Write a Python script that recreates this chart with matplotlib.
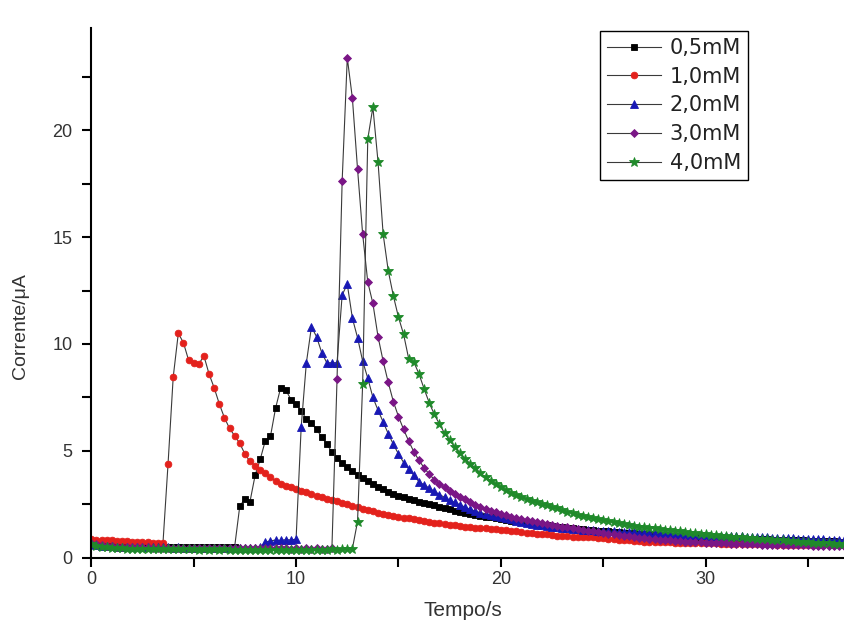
import matplotlib.pyplot as plt
from matplotlib.ticker import MultipleLocator
import numpy as np

plt.rcParams['font.family'] = ['Liberation Sans', 'DejaVu Sans']

# sampling step of the chronoamperograms (s)
dt = 0.25

labels = ('0,5mM', '1,0mM', '2,0mM', '3,0mM', '4,0mM')

# current (uA), one row = 2 s
c05 = [0.68, 0.63, 0.59, 0.57, 0.55, 0.54, 0.54, 0.52,
       0.53, 0.51, 0.52, 0.50, 0.51, 0.49, 0.50, 0.49,
       0.50, 0.48, 0.49, 0.48, 0.49, 0.47, 0.48, 0.47,
       0.48, 0.47, 0.48, 0.47, 0.50, 2.40, 2.75, 2.62,
       3.85, 4.60, 5.48, 5.68, 7.00, 7.96, 7.84, 7.40,
       7.20, 6.85, 6.50, 6.28, 6.00, 5.65, 5.30, 4.95,
       4.65, 4.43, 4.24, 4.05, 3.86, 3.72, 3.58, 3.43,
       3.30, 3.19, 3.09, 2.99, 2.88, 2.82, 2.75, 2.68,
       2.62, 2.56, 2.50, 2.44, 2.38, 2.32, 2.26, 2.20,
       2.15, 2.10, 2.05, 2.00, 1.95, 1.92, 1.88, 1.84,
       1.80, 1.76, 1.72, 1.69, 1.65, 1.62, 1.58, 1.55,
       1.52, 1.50, 1.47, 1.45, 1.42, 1.40, 1.37, 1.35,
       1.32, 1.30, 1.28, 1.26, 1.24, 1.22, 1.20, 1.18,
       1.16, 1.15, 1.13, 1.12, 1.10, 1.09, 1.07, 1.06,
       1.04, 1.03, 1.02, 1.00, 0.99, 0.98, 0.97, 0.96,
       0.95, 0.94, 0.93, 0.92, 0.91, 0.90, 0.90, 0.89,
       0.88, 0.87, 0.87, 0.86, 0.85, 0.84, 0.84, 0.83,
       0.82, 0.81, 0.81, 0.80, 0.79, 0.78, 0.78, 0.77,
       0.76, 0.76, 0.75, 0.75, 0.74, 0.74, 0.73, 0.73]

c10 = [0.86, 0.84, 0.83, 0.81, 0.80, 0.79, 0.78, 0.77,
       0.75, 0.74, 0.72, 0.71, 0.69, 0.68, 0.66, 4.40,
       8.44, 10.50, 10.06, 9.25, 9.12, 9.06, 9.44, 8.60,
       7.95, 7.20, 6.55, 6.05, 5.70, 5.35, 4.85, 4.50,
       4.30, 4.12, 3.95, 3.75, 3.58, 3.45, 3.36, 3.28,
       3.20, 3.12, 3.05, 2.98, 2.90, 2.83, 2.76, 2.70,
       2.64, 2.56, 2.49, 2.42, 2.35, 2.28, 2.22, 2.16,
       2.10, 2.05, 2.00, 1.95, 1.91, 1.87, 1.83, 1.79,
       1.75, 1.71, 1.68, 1.64, 1.60, 1.57, 1.53, 1.50,
       1.47, 1.45, 1.42, 1.40, 1.38, 1.36, 1.34, 1.32,
       1.30, 1.27, 1.25, 1.22, 1.20, 1.17, 1.15, 1.12,
       1.10, 1.08, 1.05, 1.03, 1.01, 0.99, 0.98, 0.97,
       0.96, 0.95, 0.94, 0.93, 0.92, 0.89, 0.86, 0.84,
       0.82, 0.80, 0.78, 0.76, 0.75, 0.74, 0.73, 0.72,
       0.71, 0.71, 0.70, 0.69, 0.69, 0.68, 0.68, 0.67,
       0.67, 0.66, 0.66, 0.65, 0.65, 0.65, 0.64, 0.64,
       0.63, 0.63, 0.63, 0.62, 0.62, 0.62, 0.61, 0.61,
       0.61, 0.60, 0.60, 0.60, 0.59, 0.59, 0.59, 0.58,
       0.58, 0.58, 0.58, 0.57, 0.57, 0.57, 0.57, 0.56]

c20 = [0.62, 0.58, 0.55, 0.53, 0.52, 0.51, 0.50, 0.50,
       0.49, 0.49, 0.48, 0.48, 0.47, 0.48, 0.47, 0.47,
       0.46, 0.47, 0.46, 0.46, 0.45, 0.46, 0.45, 0.45,
       0.46, 0.45, 0.45, 0.44, 0.45, 0.44, 0.45, 0.44,
       0.46, 0.50, 0.72, 0.78, 0.82, 0.80, 0.84, 0.82,
       0.86, 6.13, 9.10, 10.80, 10.34, 9.60, 9.12, 9.12,
       9.12, 12.30, 12.80, 11.20, 10.30, 9.20, 8.40, 7.50,
       6.90, 6.35, 5.80, 5.30, 4.85, 4.45, 4.15, 3.85,
       3.55, 3.40, 3.25, 3.10, 2.95, 2.82, 2.69, 2.58,
       2.47, 2.36, 2.25, 2.18, 2.10, 2.05, 2.00, 1.95,
       1.90, 1.84, 1.79, 1.73, 1.68, 1.63, 1.58, 1.54,
       1.50, 1.47, 1.44, 1.41, 1.38, 1.36, 1.34, 1.32,
       1.30, 1.29, 1.28, 1.26, 1.25, 1.24, 1.23, 1.21,
       1.20, 1.19, 1.18, 1.16, 1.15, 1.14, 1.13, 1.11,
       1.10, 1.09, 1.09, 1.08, 1.07, 1.06, 1.06, 1.05,
       1.04, 1.03, 1.03, 1.02, 1.01, 1.00, 1.00, 0.99,
       0.97, 0.97, 0.96, 0.95, 0.94, 0.93, 0.93, 0.92,
       0.90, 0.90, 0.89, 0.88, 0.88, 0.87, 0.86, 0.85,
       0.84, 0.84, 0.83, 0.83, 0.82, 0.82, 0.81, 0.81]

c30 = [0.70, 0.64, 0.58, 0.55, 0.53, 0.51, 0.50, 0.49,
       0.48, 0.48, 0.47, 0.47, 0.46, 0.46, 0.46, 0.45,
       0.45, 0.46, 0.45, 0.44, 0.45, 0.44, 0.45, 0.44,
       0.44, 0.45, 0.44, 0.44, 0.43, 0.44, 0.43, 0.44,
       0.43, 0.44, 0.43, 0.43, 0.44, 0.43, 0.43, 0.42,
       0.43, 0.42, 0.43, 0.42, 0.43, 0.42, 0.42, 0.45,
       8.36, 17.65, 23.40, 21.50, 18.20, 15.15, 12.90, 11.90,
       10.35, 9.20, 8.20, 7.30, 6.60, 6.00, 5.45, 4.95,
       4.55, 4.20, 3.90, 3.65, 3.45, 3.28, 3.13, 2.98,
       2.85, 2.72, 2.60, 2.48, 2.37, 2.28, 2.20, 2.12,
       2.05, 1.98, 1.92, 1.86, 1.80, 1.75, 1.70, 1.65,
       1.60, 1.56, 1.52, 1.48, 1.45, 1.41, 1.37, 1.34,
       1.30, 1.26, 1.22, 1.19, 1.15, 1.12, 1.08, 1.05,
       1.02, 0.99, 0.96, 0.93, 0.90, 0.88, 0.86, 0.84,
       0.82, 0.80, 0.78, 0.77, 0.75, 0.74, 0.72, 0.71,
       0.70, 0.69, 0.68, 0.67, 0.66, 0.65, 0.64, 0.64,
       0.63, 0.62, 0.62, 0.61, 0.60, 0.60, 0.59, 0.59,
       0.58, 0.58, 0.57, 0.57, 0.57, 0.56, 0.56, 0.56,
       0.55, 0.55, 0.55, 0.55, 0.54, 0.54, 0.54, 0.54]

c40 = [0.62, 0.55, 0.50, 0.47, 0.45, 0.44, 0.43, 0.42,
       0.42, 0.41, 0.40, 0.41, 0.40, 0.39, 0.40, 0.39,
       0.40, 0.38, 0.39, 0.38, 0.39, 0.37, 0.38, 0.37,
       0.38, 0.37, 0.38, 0.36, 0.37, 0.36, 0.37, 0.36,
       0.37, 0.36, 0.37, 0.36, 0.37, 0.36, 0.37, 0.36,
       0.37, 0.36, 0.37, 0.36, 0.37, 0.36, 0.37, 0.38,
       0.37, 0.39, 0.40, 0.42, 1.68, 8.13, 19.60, 21.09,
       18.54, 15.15, 13.43, 12.25, 11.25, 10.45, 9.30, 9.15,
       8.60, 7.90, 7.25, 6.70, 6.25, 5.82, 5.50, 5.18,
       4.90, 4.62, 4.40, 4.20, 3.95, 3.77, 3.60, 3.44,
       3.30, 3.16, 3.04, 2.93, 2.83, 2.74, 2.66, 2.58,
       2.50, 2.44, 2.37, 2.30, 2.22, 2.15, 2.08, 2.01,
       1.95, 1.90, 1.85, 1.80, 1.75, 1.70, 1.65, 1.60,
       1.55, 1.52, 1.48, 1.45, 1.42, 1.39, 1.36, 1.33,
       1.30, 1.27, 1.25, 1.22, 1.20, 1.17, 1.15, 1.12,
       1.10, 1.07, 1.05, 1.02, 1.00, 0.98, 0.96, 0.94,
       0.92, 0.90, 0.88, 0.87, 0.85, 0.83, 0.81, 0.80,
       0.78, 0.76, 0.75, 0.73, 0.72, 0.70, 0.69, 0.67,
       0.66, 0.65, 0.63, 0.62, 0.60, 0.59, 0.58, 0.57]

series = [c05, c10, c20, c30, c40]
markers = ['s', 'o', '^', 'D', '*']
sizes = [4.0, 4.8, 5.6, 4.3, 7.2]
colors = ['#000000', '#e3211c', '#1818b4', '#7a1686', '#1f8a2a']

fig = plt.figure(figsize=(8.45, 6.35), dpi=100)
ax = fig.add_axes([0.108, 0.122, 0.892, 0.834])

for y, lab, m, ms, c in zip(series, labels, markers, sizes, colors):
    t = dt * np.arange(len(y))
    ax.plot(t, y, color='#3a3a3a', lw=0.8, marker=m, ms=ms,
            mfc=c, mec=c, mew=0.6, label=lab)

ax.set_xlim(0, 36.8)
ax.set_ylim(0, 24.8)

for s in ('top', 'right'):
    ax.spines[s].set_visible(False)
for s in ('left', 'bottom'):
    ax.spines[s].set_linewidth(1.5)

ax.xaxis.set_major_locator(MultipleLocator(10))
ax.xaxis.set_minor_locator(MultipleLocator(5))
ax.yaxis.set_major_locator(MultipleLocator(5))
ax.yaxis.set_minor_locator(MultipleLocator(2.5))
ax.tick_params(which='both', direction='out', length=6.5, width=1.5,
               colors='black', labelcolor='#333333', labelsize=13)
ax.tick_params(axis='x', pad=3)
ax.tick_params(axis='y', pad=7)

ax.set_xlabel('Tempo/s', fontsize=15, color='#333333')
ax.set_ylabel('Corrente/μA', fontsize=14, color='#333333')
ax.xaxis.set_label_coords(0.493, -0.082)
ax.yaxis.set_label_coords(-0.083, 0.437)

leg = ax.legend(loc='upper left', bbox_to_anchor=(0.675, 0.995),
                borderaxespad=0, fancybox=False, framealpha=1,
                edgecolor='black',
                prop={'family': 'DejaVu Sans', 'size': 15},
                handlelength=2.6, handletextpad=0.4, labelspacing=0.42,
                borderpad=0.35, numpoints=1)
leg.get_frame().set_linewidth(1.0)
for txt in leg.get_texts():
    txt.set_color('#222222')

fig.savefig('out.png', dpi=100)
